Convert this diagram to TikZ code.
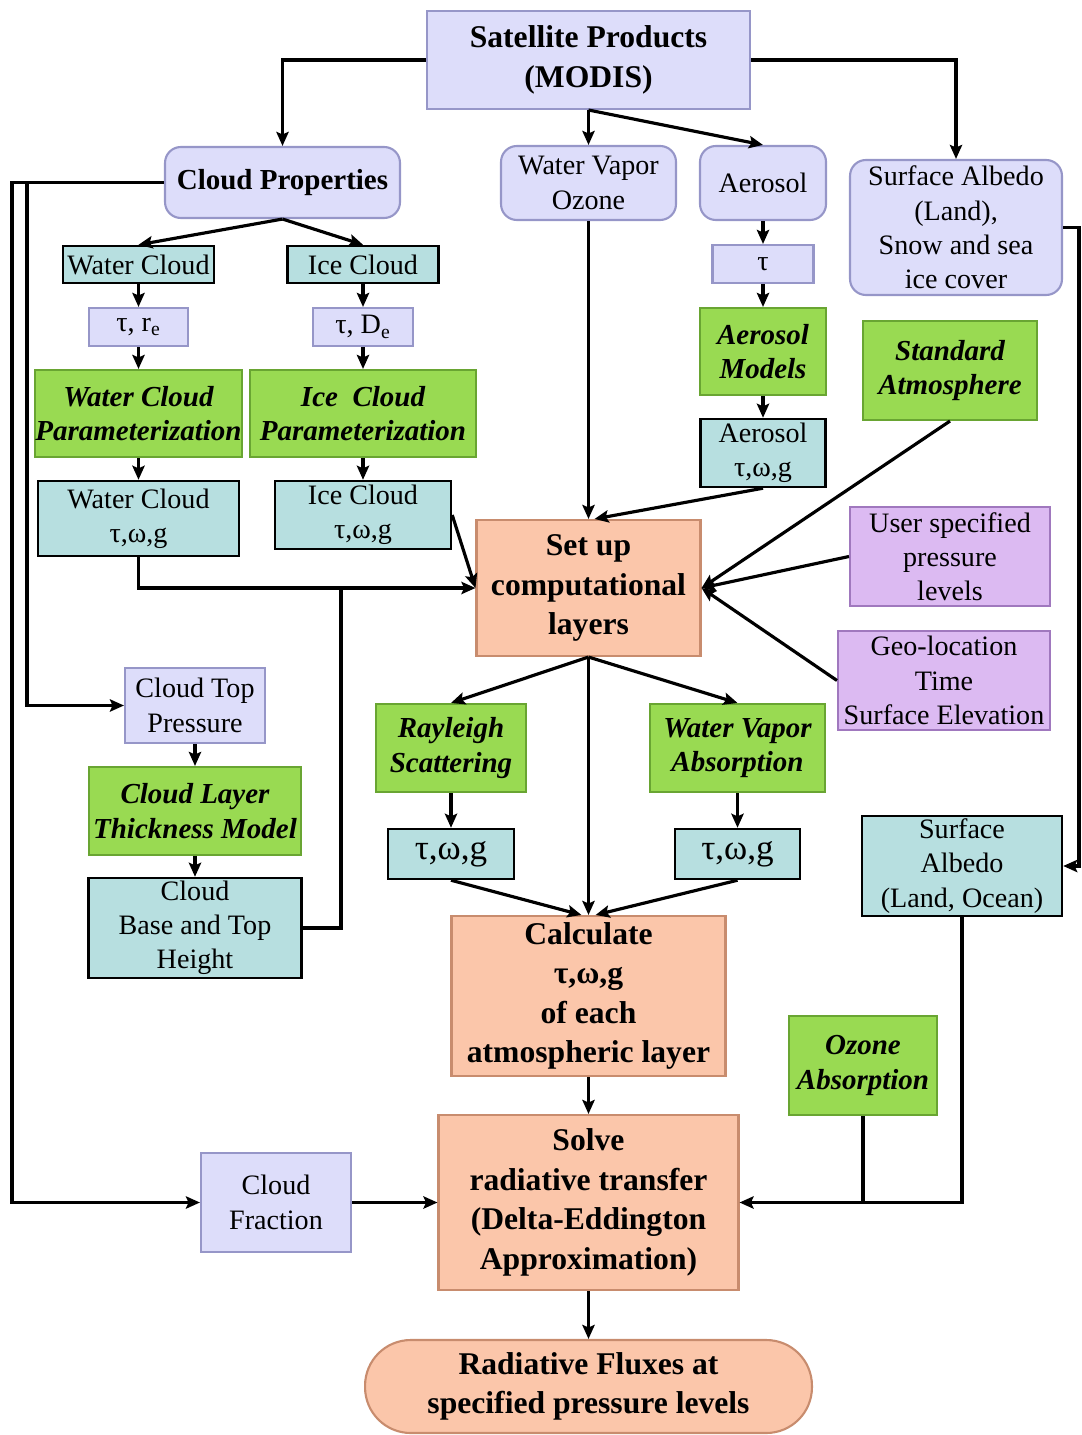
\documentclass[tikz,border=0pt]{standalone}
\usepackage{fontspec}
\setmainfont{Liberation Serif}
\usetikzlibrary{arrows.meta,calc}

\definecolor{lav}{RGB}{221,221,250}
\definecolor{lavd}{RGB}{150,150,200}
\definecolor{tealb}{RGB}{183,223,224}
\definecolor{grn}{RGB}{153,218,82}
\definecolor{grnd}{RGB}{105,165,50}
\definecolor{salm}{RGB}{251,198,170}
\definecolor{salmd}{RGB}{200,140,110}
\definecolor{purp}{RGB}{220,186,242}
\definecolor{purpd}{RGB}{160,120,190}

\begin{document}
\begin{tikzpicture}[x=0.02cm, y=-0.02cm, >={Stealth[length=8pt,width=7pt,inset=1.5pt]}]
\tikzset{
  sz/.style 2 args={minimum width=#1*0.2mm, minimum height=#2*0.2mm},
  bx/.style={align=center, inner sep=0pt, font=\fontsize{16}{19.5}\selectfont},
  lavbox/.style={bx, fill=lav, draw=lavd, line width=1.2pt},
  rlav/.style={lavbox, rounded corners=9pt},
  tealbox/.style={bx, fill=tealb, draw=black, line width=1.4pt},
  grnbox/.style={bx, fill=grn, draw=grnd, line width=1.2pt, font=\fontsize{16.5}{19.5}\selectfont\bfseries\itshape},
  salbox/.style={bx, fill=salm, draw=salmd, line width=1.2pt, font=\fontsize{18}{22.5}\selectfont\bfseries},
  purbox/.style={bx, fill=purp, draw=purpd, line width=1.2pt},
  hd/.style={font=\fontsize{18}{22.5}\selectfont\bfseries},
  ln/.style={line width=1.8pt},
}
\useasboundingbox (0,0) rectangle (1081,1435);

% inputs
\node[lavbox, hd, sz={323}{98}] (sat) at (588.5,60) {Satellite Products\\(MODIS)};
\node[rlav, sz={235}{71}, font=\fontsize{16.5}{20}\selectfont\bfseries] (cprop) at (282.5,182.5) {Cloud Properties};
\node[rlav, sz={175}{74}] (wvo) at (588.5,183) {Water Vapor\\Ozone};
\node[rlav, sz={126}{74}] (aer) at (763,183) {Aerosol};
\node[rlav, sz={212}{135}] (salb) at (956,227.5) {Surface Albedo\\(Land),\\Snow and sea\\ice cover};

% cloud branch
\node[tealbox, sz={151}{37}] (wc) at (138.5,264.5) {Water Cloud};
\node[tealbox, sz={151}{37}] (ic) at (363,264.5) {Ice Cloud};
\node[lavbox, sz={99}{38}] (tre) at (138.5,327) {τ, r\textsubscript{e}};
\node[lavbox, sz={100}{38}] (tde) at (363,327) {τ, D\textsubscript{e}};
\node[grnbox, sz={202}{87}] (wcp) at (138.5,413.5) {Water Cloud\\Parameterization};
\node[grnbox, sz={226}{87}] (icp) at (363,413.5) {Ice~~Cloud\\Parameterization};
\node[tealbox, sz={201}{75}] (wco) at (138.5,518.5) {Water Cloud\\τ,ω,g};
\node[tealbox, sz={176}{68}] (ico) at (363,515) {Ice Cloud\\τ,ω,g};

% aerosol branch
\node[lavbox, sz={101}{38}] (tau) at (763,264) {τ};
\node[grnbox, sz={126}{87}] (aerm) at (763,351.5) {Aerosol\\Models};
\node[tealbox, sz={125}{68}] (aero) at (763,453) {Aerosol\\τ,ω,g};
\node[grnbox, sz={174}{99}] (stda) at (950,370.5) {Standard\\Atmosphere};

% layers
\node[salbox, sz={224}{136}] (setup) at (588.5,588) {Set up\\computational\\layers};
\node[purbox, sz={200}{99}] (usp) at (950,556.5) {User specified\\pressure\\levels};
\node[purbox, sz={212}{99}] (geo) at (944,680.5) {Geo-location\\Time\\Surface Elevation};

\node[lavbox, sz={140}{75}] (ctp) at (195,705.5) {Cloud Top\\Pressure};
\node[grnbox, sz={212}{88}] (cltm) at (195,811) {Cloud Layer\\Thickness Model};
\node[tealbox, sz={213}{100}] (cbth) at (195,928) {Cloud\\Base and Top\\Height};

\node[grnbox, sz={150}{88}] (ray) at (451,748) {Rayleigh\\Scattering};
\node[grnbox, sz={175}{88}] (wva) at (737.5,748) {Water Vapor\\Absorption};
\node[tealbox, sz={126}{50}, font=\fontsize{20}{24}\selectfont] (rt) at (451,854) {τ,ω,g};
\node[tealbox, sz={125}{50}, font=\fontsize{20}{24}\selectfont] (wt) at (737.5,854) {τ,ω,g};
\node[tealbox, sz={200}{100}] (salo) at (962,866) {Surface\\Albedo\\(Land, Ocean)};

% solver
\node[salbox, sz={274}{160}] (calc) at (588.5,996) {Calculate\\τ,ω,g\\of each\\atmospheric layer};
\node[grnbox, sz={148}{99}] (ozo) at (863,1065.5) {Ozone\\Absorption};
\node[salbox, sz={300}{175}] (solve) at (588.5,1202.5) {Solve\\radiative transfer\\(Delta-Eddington\\Approximation)};
\node[lavbox, sz={150}{99}] (cfr) at (276,1202.5) {Cloud\\Fraction};
\node[salbox, sz={447}{93}, rounded corners=26pt] (flux) at (588.5,1386.5) {Radiative Fluxes at\\specified pressure levels};

\coordinate (l1) at (12,182.5);
\coordinate (l2) at (27,182.5);
\coordinate (j1) at (341,588);
\coordinate (r1) at (1079,227.5);

% connectors
\draw[->, ln] (sat.west) -| (cprop.north);
\draw[->, ln] (sat.east) -| (salb.north);
\draw[->, ln] (sat.south) -- (wvo.north);
\draw[->, ln] (sat.south) -- (aer.north);
\draw[->, ln] (cprop.south) -- (wc.north);
\draw[->, ln] (cprop.south) -- (ic.north);
\foreach \a/\b in {wc/tre, tre/wcp, wcp/wco, ic/tde, tde/icp, icp/ico,
                   aer/tau, tau/aerm, aerm/aero, ctp/cltm, cltm/cbth,
                   ray/rt, wva/wt, calc/solve, solve/flux}
  \draw[->, ln] (\a.south) -- (\b.north);

\draw[->, ln] (wco.south) |- (setup.west);
\draw[->, ln] (ico.east) -- (setup.west);
\draw[ln] (cbth.east) -| (j1);
\draw[->, ln] (cprop.west) -- (l1) |- (cfr.west);
\draw[->, ln] (l2) |- (ctp.west);

\draw[->, ln] (wvo.south) -- (setup.north);
\draw[->, ln] (aero.south) -- (setup.85);
\draw[->, ln] (stda.south) -- (setup.east);
\draw[->, ln] (usp.west) -- (setup.east);
\draw[->, ln] (geo.west) -- (setup.east);

\draw[->, ln] (setup.south) -- (ray.north);
\draw[->, ln] (setup.south) -- (wva.north);
\draw[->, ln] (setup.south) -- (calc.north);
\draw[->, ln] (rt.south) -- (calc.95);
\draw[->, ln] (wt.south) -- (calc.85);

\draw[->, ln] (cfr.east) -- (solve.west);
\draw[->, ln] (salo.south) |- (solve.east);
\draw[ln] (ozo.south) -- (ozo.south |- solve.east);
\draw[->, ln] (salb.east) -- (r1) |- (salo.east);
\end{tikzpicture}
\end{document}
